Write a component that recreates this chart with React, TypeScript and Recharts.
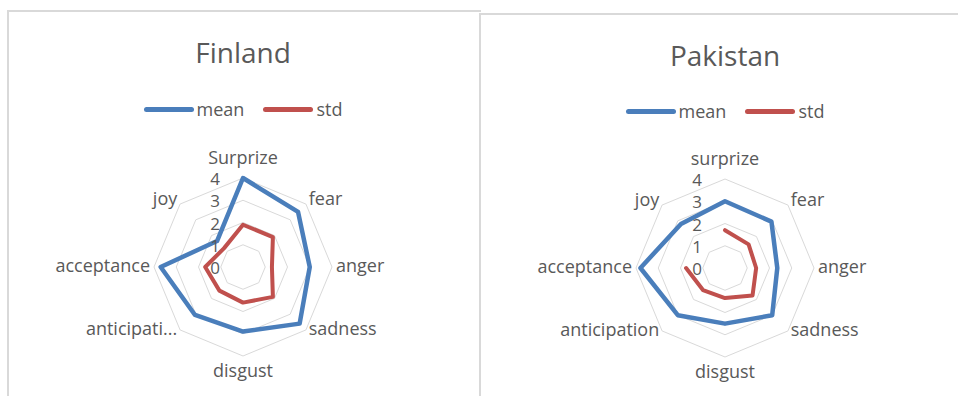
import React from "react";
import {
  Legend,
  PolarAngleAxis,
  PolarGrid,
  PolarRadiusAxis,
  Radar,
  RadarChart,
} from "recharts";

const emotions = ["surprize", "fear", "anger", "sadness", "disgust", "anticipation", "acceptance", "joy"];
const finlandLabels = ["Surprize", "fear", "anger", "sadness", "disgust", "anticipati...", "acceptance", "joy"];
const pakistanLabels = ["surprize", "fear", "anger", "sadness", "disgust", "anticipation", "acceptance", "joy"];

const finlandMean = [4.0, 3.5, 3.0, 3.6, 2.9, 3.05, 3.7, 1.65];
const finlandStd = [1.9, 1.9, 1.3, 1.9, 1.6, 1.5, 1.7, 1.2];
const pakistanMean = [3.0, 2.95, 2.35, 3.0, 2.5, 3.0, 3.8, 2.8];
const pakistanStd = [1.7, 1.5, 1.4, 1.75, 1.35, 1.4, 1.75, null];

const radiusTicks = [0, 1, 2, 3, 4];

const FONT = "'Open Sans', sans-serif";
const TEXT = "#595959";
const BLUE = "#4a7ebb";
const RED = "#c0504d";
const GRID = "#d9d9d9";

// draws the series as a line, leaving gaps where a value is missing
function RadarLine(props: any) {
  const { points, stroke, strokeWidth } = props;
  const ok = points.map(
    (p: any) => p.value != null && Number.isFinite(p.x) && Number.isFinite(p.y)
  );
  let d = "";
  if (ok.every(Boolean)) {
    d = points.map((p: any, i: number) => `${i ? "L" : "M"}${p.x},${p.y}`).join("") + "Z";
  } else {
    const n = points.length;
    const start = (ok.indexOf(false) + 1) % n;
    let pen = false;
    for (let k = 0; k < n; k++) {
      const i = (start + k) % n;
      if (!ok[i]) {
        pen = false;
        continue;
      }
      d += `${pen ? "L" : "M"}${points[i].x},${points[i].y}`;
      pen = true;
    }
  }
  return (
    <path
      d={d}
      fill="none"
      stroke={stroke}
      strokeWidth={strokeWidth}
      strokeLinejoin="round"
      strokeLinecap="round"
    />
  );
}

function LegendContent({ payload }: any) {
  return (
    <div
      style={{
        display: "flex",
        justifyContent: "center",
        alignItems: "center",
        fontFamily: FONT,
        fontSize: 18,
        color: TEXT,
        lineHeight: "20px",
      }}
    >
      {(payload || []).map((item: any, i: number) => (
        <span key={i} style={{ display: "flex", alignItems: "center", marginLeft: i ? 19 : 0 }}>
          <span
            style={{
              display: "inline-block",
              width: 50,
              height: 5,
              borderRadius: 3,
              background: item.color,
              marginRight: 3,
            }}
          />
          {item.value}
        </span>
      ))}
    </div>
  );
}

type PanelProps = {
  title: string;
  labels: string[];
  mean: (number | null)[];
  std: (number | null)[];
  left: number;
  cx: number;
  cy: number;
  titleY: number;
  legendY: number;
};

function Panel({ title, labels, mean, std, left, cx, cy, titleY, legendY }: PanelProps) {
  const data = emotions.map((e, i) => ({ emotion: e, label: labels[i], mean: mean[i], std: std[i] }));
  const width = 479;

  const angleTick = (p: any) => {
    const dx = p.x - cx;
    const dy = p.y - cy;
    let off = 5;
    if (Math.abs(dx) < 1) off = dy < 0 ? -10 : 17;
    else if (dy < -1) off = 4;
    else if (dy > 1) off = 2;
    return (
      <text x={p.x} y={p.y + off} textAnchor={p.textAnchor} fill={TEXT} fontFamily={FONT} fontSize={18}>
        {p.payload.value}
      </text>
    );
  };

  const radiusTick = (p: any) => (
    <text x={p.x - 23} y={p.y + 7} textAnchor="end" fill={TEXT} fontFamily={FONT} fontSize={17}>
      {p.payload.value}
    </text>
  );

  return (
    <div style={{ position: "absolute", left, top: 0, width, height: 396 }}>
      <div
        style={{
          position: "absolute",
          left: 0,
          width: cx * 2,
          top: titleY - 19,
          textAlign: "center",
          fontFamily: FONT,
          fontSize: 28,
          lineHeight: "38px",
          color: TEXT,
        }}
      >
        {title}
      </div>
      <RadarChart
        width={width}
        height={396}
        data={data}
        cx={cx}
        cy={cy}
        outerRadius={89}
        margin={{ top: 0, right: 0, bottom: 0, left: 0 }}
      >
        <PolarGrid gridType="polygon" radialLines={false} stroke={GRID} strokeWidth={1} />
        <PolarAngleAxis dataKey="label" tick={angleTick} tickLine={false} axisLine={false} tickSize={4} />
        <PolarRadiusAxis
          angle={90}
          domain={[0, 4]}
          ticks={radiusTicks as any}
          tick={radiusTick}
          axisLine={false}
          tickLine={false}
        />
        <Radar
          name="mean"
          dataKey="mean"
          stroke={BLUE}
          strokeWidth={4.5}
          fill="none"
          isAnimationActive={false}
          shape={<RadarLine />}
        />
        <Radar
          name="std"
          dataKey="std"
          stroke={RED}
          strokeWidth={4}
          fill="none"
          isAnimationActive={false}
          shape={<RadarLine />}
        />
        <Legend
          layout="horizontal"
          verticalAlign="middle"
          align="center"
          content={<LegendContent />}
          wrapperStyle={{ top: legendY - 10, left: 0, width: cx * 2 }}
        />
      </RadarChart>
    </div>
  );
}

export default function App() {
  return (
    <div style={{ position: "absolute", left: 0, top: 0, width: 958, height: 396, background: "#fff", overflow: "hidden" }}>
      <div
        style={{
          position: "absolute",
          left: 7,
          top: 10,
          width: 472,
          height: 400,
          borderTop: "2px solid #d9d9d9",
          borderLeft: "2px solid #d9d9d9",
        }}
      />
      <div
        style={{
          position: "absolute",
          left: 479,
          top: 13,
          width: 479,
          height: 400,
          borderTop: "2px solid #d9d9d9",
          borderLeft: "2px solid #d9d9d9",
        }}
      />
      <Panel
        title="Finland"
        labels={finlandLabels}
        mean={finlandMean}
        std={finlandStd}
        left={0}
        cx={243}
        cy={267}
        titleY={52}
        legendY={109}
      />
      <Panel
        title="Pakistan"
        labels={pakistanLabels}
        mean={pakistanMean}
        std={pakistanStd}
        left={479}
        cx={246}
        cy={268}
        titleY={55}
        legendY={111}
      />
    </div>
  );
}
